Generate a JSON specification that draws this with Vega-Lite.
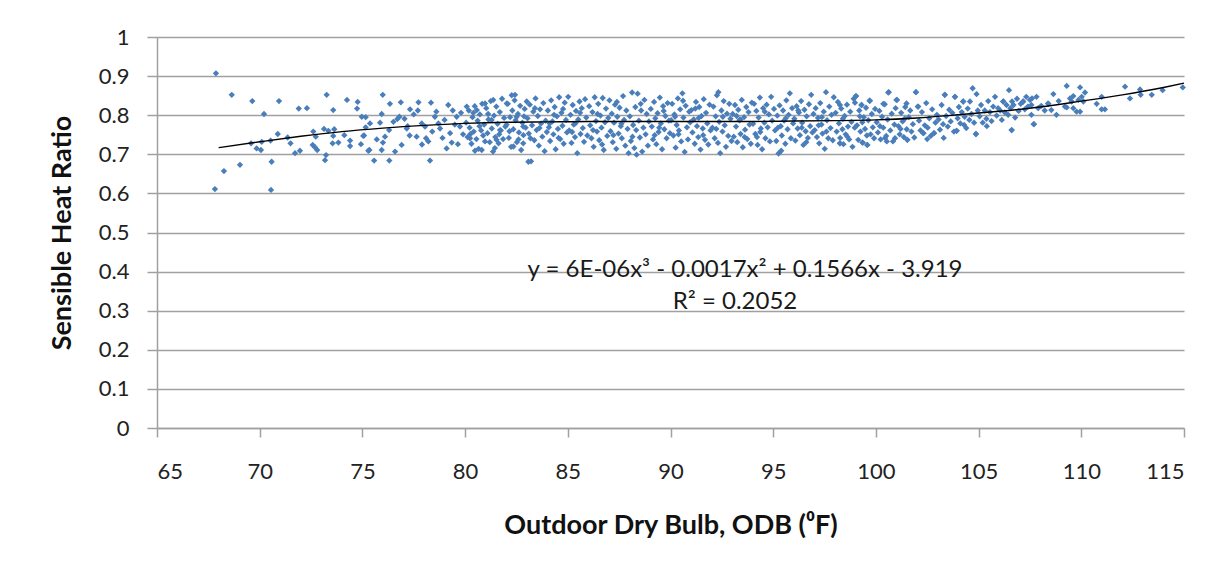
{
  "$schema": "https://vega.github.io/schema/vega-lite/v6.json",
  "width": 1027,
  "height": 391,
  "autosize": {"type": "none"},
  "padding": {"left": 157, "top": 37, "right": 41, "bottom": 144},
  "background": "white",
  "config": {"view": {"stroke": null}, "font": "Lato"},
  "datasets": {
    "pts": [
      {"x":67.87,"y":0.907},{"x":68.64,"y":0.852},{"x":69.64,"y":0.836},{"x":70.94,"y":0.836},{"x":70.21,"y":0.803},{"x":71.9,"y":0.817},{"x":72.3,"y":0.818},{"x":73.26,"y":0.852},{"x":73.58,"y":0.813},{"x":74.25,"y":0.839},{"x":74.77,"y":0.834},{"x":74.74,"y":0.817},{"x":75.16,"y":0.795},{"x":68.26,"y":0.657},{"x":69.04,"y":0.673},{"x":67.82,"y":0.611},{"x":70.55,"y":0.609},{"x":70.58,"y":0.681},{"x":69.58,"y":0.728},{"x":69.85,"y":0.715},{"x":70.1,"y":0.732},{"x":70.06,"y":0.711},{"x":70.53,"y":0.735},{"x":70.88,"y":0.752},{"x":71.36,"y":0.743},{"x":71.5,"y":0.728},{"x":71.72,"y":0.703},{"x":71.96,"y":0.709},{"x":72.58,"y":0.724},{"x":72.69,"y":0.718},{"x":72.8,"y":0.711},{"x":72.61,"y":0.758},{"x":72.73,"y":0.745},{"x":73.13,"y":0.765},{"x":73.34,"y":0.76},{"x":73.23,"y":0.698},{"x":73.18,"y":0.685},{"x":73.63,"y":0.764},{"x":73.58,"y":0.747},{"x":73.55,"y":0.728},{"x":73.83,"y":0.73},{"x":74.12,"y":0.749},{"x":74.4,"y":0.735},{"x":74.4,"y":0.721},{"x":74.93,"y":0.726},{"x":75.04,"y":0.747},{"x":75.16,"y":0.769},{"x":75.29,"y":0.709},
      {"x":75.99,"y":0.852},{"x":76.34,"y":0.829},{"x":76.87,"y":0.833},{"x":77.73,"y":0.833},{"x":78.34,"y":0.832},{"x":79.18,"y":0.826},{"x":77.32,"y":0.815},{"x":74.97,"y":0.796},{"x":75.94,"y":0.803},{"x":76.8,"y":0.796},{"x":75.37,"y":0.779},{"x":75.86,"y":0.781},{"x":76.51,"y":0.783},{"x":77.16,"y":0.766},{"x":75.08,"y":0.748},{"x":75.7,"y":0.738},{"x":76.1,"y":0.745},{"x":75.34,"y":0.711},{"x":75.94,"y":0.711},{"x":75.57,"y":0.684},{"x":76.31,"y":0.684},{"x":76.59,"y":0.707},{"x":76.91,"y":0.724},{"x":77.64,"y":0.745},{"x":77.89,"y":0.779},{"x":78.29,"y":0.684},{"x":78.21,"y":0.733},{"x":78.53,"y":0.796},{"x":78.78,"y":0.766},{"x":79.1,"y":0.715},{"x":79.27,"y":0.754},{"x":79.59,"y":0.796},{"x":79.75,"y":0.771},{"x":80.08,"y":0.822},{"x":80.24,"y":0.741},{"x":80.48,"y":0.709},{"x":80.81,"y":0.711},{"x":80.57,"y":0.813},{"x":80.97,"y":0.83},{"x":81.37,"y":0.839},{"x":81.29,"y":0.788},{"x":81.53,"y":0.737},{"x":81.7,"y":0.762},{"x":82.03,"y":0.83},{"x":82.43,"y":0.852},{"x":82.51,"y":0.796},{"x":82.35,"y":0.72},{"x":82.83,"y":0.728},{"x":83.0,"y":0.835},{"x":83.08,"y":0.681},{"x":82.83,"y":0.771},
      {"x":77.05,"y":0.791},{"x":77.3,"y":0.748},{"x":77.5,"y":0.802},{"x":77.9,"y":0.725},{"x":78.05,"y":0.771},{"x":78.4,"y":0.758},{"x":78.6,"y":0.809},{"x":78.9,"y":0.742},{"x":79.0,"y":0.788},{"x":79.35,"y":0.73},{"x":79.5,"y":0.776},{"x":79.8,"y":0.806},{"x":79.9,"y":0.751},{"x":79.4,"y":0.812},{"x":78.7,"y":0.779},{"x":78.1,"y":0.741},{"x":76.3,"y":0.762},{"x":76.7,"y":0.79},{"x":77.7,"y":0.812},{"x":79.65,"y":0.726},{"x":76.0,"y":0.73},{"x":77.2,"y":0.772},
      {"x":80.05,"y":0.781},{"x":80.12,"y":0.744},{"x":80.18,"y":0.812},{"x":80.22,"y":0.768},{"x":80.31,"y":0.727},{"x":80.36,"y":0.795},{"x":80.42,"y":0.758},{"x":80.47,"y":0.823},{"x":80.55,"y":0.739},{"x":80.61,"y":0.786},{"x":80.66,"y":0.714},{"x":80.72,"y":0.802},{"x":80.78,"y":0.761},{"x":80.83,"y":0.829},{"x":80.88,"y":0.748},{"x":80.93,"y":0.776},{"x":80.97,"y":0.733},{"x":80.4,"y":0.806},{"x":80.7,"y":0.772},{"x":80.26,"y":0.752},
      {"x":81.03,"y":0.818},{"x":81.09,"y":0.754},{"x":81.14,"y":0.789},{"x":81.2,"y":0.731},{"x":81.25,"y":0.836},{"x":81.3,"y":0.766},{"x":81.36,"y":0.707},{"x":81.41,"y":0.799},{"x":81.47,"y":0.744},{"x":81.52,"y":0.822},{"x":81.58,"y":0.778},{"x":81.63,"y":0.728},{"x":81.69,"y":0.808},{"x":81.74,"y":0.761},{"x":81.8,"y":0.842},{"x":81.85,"y":0.739},{"x":81.9,"y":0.793},{"x":81.96,"y":0.771},{"x":81.45,"y":0.716},{"x":81.12,"y":0.803},{"x":81.66,"y":0.751},
      {"x":82.02,"y":0.776},{"x":82.08,"y":0.829},{"x":82.13,"y":0.742},{"x":82.19,"y":0.795},{"x":82.24,"y":0.719},{"x":82.3,"y":0.812},{"x":82.35,"y":0.764},{"x":82.41,"y":0.838},{"x":82.46,"y":0.787},{"x":82.52,"y":0.731},{"x":82.57,"y":0.803},{"x":82.62,"y":0.756},{"x":82.68,"y":0.824},{"x":82.73,"y":0.711},{"x":82.79,"y":0.781},{"x":82.84,"y":0.749},{"x":82.9,"y":0.816},{"x":82.95,"y":0.768},{"x":82.27,"y":0.851},{"x":82.6,"y":0.738},{"x":82.87,"y":0.797},{"x":82.16,"y":0.759},
      {"x":83.04,"y":0.792},{"x":83.1,"y":0.753},{"x":83.15,"y":0.827},{"x":83.21,"y":0.682},{"x":83.26,"y":0.774},{"x":83.32,"y":0.809},{"x":83.37,"y":0.736},{"x":83.43,"y":0.843},{"x":83.48,"y":0.762},{"x":83.54,"y":0.798},{"x":83.59,"y":0.722},{"x":83.65,"y":0.815},{"x":83.7,"y":0.779},{"x":83.76,"y":0.745},{"x":83.81,"y":0.831},{"x":83.87,"y":0.708},{"x":83.92,"y":0.786},{"x":83.98,"y":0.757},{"x":83.4,"y":0.818},{"x":83.62,"y":0.767},{"x":83.18,"y":0.741},
      {"x":84.03,"y":0.812},{"x":84.08,"y":0.769},{"x":84.14,"y":0.734},{"x":84.19,"y":0.838},{"x":84.25,"y":0.784},{"x":84.3,"y":0.751},{"x":84.36,"y":0.821},{"x":84.41,"y":0.713},{"x":84.47,"y":0.797},{"x":84.52,"y":0.765},{"x":84.58,"y":0.846},{"x":84.63,"y":0.739},{"x":84.69,"y":0.806},{"x":84.74,"y":0.773},{"x":84.8,"y":0.727},{"x":84.85,"y":0.832},{"x":84.91,"y":0.788},{"x":84.96,"y":0.756},{"x":84.33,"y":0.801},{"x":84.55,"y":0.742},{"x":84.77,"y":0.816},{"x":84.12,"y":0.779},
      {"x":85.02,"y":0.847},{"x":85.07,"y":0.761},{"x":85.13,"y":0.801},{"x":85.18,"y":0.729},{"x":85.24,"y":0.826},{"x":85.29,"y":0.776},{"x":85.35,"y":0.744},{"x":85.4,"y":0.811},{"x":85.46,"y":0.703},{"x":85.51,"y":0.789},{"x":85.57,"y":0.835},{"x":85.62,"y":0.752},{"x":85.68,"y":0.818},{"x":85.73,"y":0.767},{"x":85.79,"y":0.732},{"x":85.84,"y":0.841},{"x":85.9,"y":0.794},{"x":85.95,"y":0.748},{"x":85.37,"y":0.779},{"x":85.6,"y":0.806},{"x":85.21,"y":0.757},
      {"x":86.04,"y":0.823},{"x":86.09,"y":0.774},{"x":86.15,"y":0.741},{"x":86.2,"y":0.808},{"x":86.26,"y":0.719},{"x":86.31,"y":0.846},{"x":86.37,"y":0.785},{"x":86.42,"y":0.758},{"x":86.48,"y":0.829},{"x":86.53,"y":0.736},{"x":86.59,"y":0.799},{"x":86.64,"y":0.768},{"x":86.7,"y":0.844},{"x":86.75,"y":0.711},{"x":86.81,"y":0.782},{"x":86.86,"y":0.817},{"x":86.92,"y":0.747},{"x":86.97,"y":0.793},{"x":86.45,"y":0.803},{"x":86.67,"y":0.725},{"x":86.23,"y":0.762},
      {"x":87.03,"y":0.838},{"x":87.08,"y":0.759},{"x":87.14,"y":0.804},{"x":87.19,"y":0.731},{"x":87.25,"y":0.781},{"x":87.3,"y":0.827},{"x":87.36,"y":0.714},{"x":87.41,"y":0.796},{"x":87.47,"y":0.753},{"x":87.52,"y":0.819},{"x":87.58,"y":0.772},{"x":87.63,"y":0.741},{"x":87.69,"y":0.849},{"x":87.74,"y":0.788},{"x":87.8,"y":0.722},{"x":87.85,"y":0.812},{"x":87.91,"y":0.765},{"x":87.96,"y":0.703},{"x":87.39,"y":0.834},{"x":87.61,"y":0.778},{"x":87.22,"y":0.749},
      {"x":88.02,"y":0.797},{"x":88.07,"y":0.734},{"x":88.13,"y":0.858},{"x":88.18,"y":0.775},{"x":88.24,"y":0.716},{"x":88.29,"y":0.821},{"x":88.35,"y":0.699},{"x":88.4,"y":0.855},{"x":88.46,"y":0.786},{"x":88.51,"y":0.743},{"x":88.57,"y":0.812},{"x":88.62,"y":0.707},{"x":88.68,"y":0.768},{"x":88.73,"y":0.839},{"x":88.79,"y":0.751},{"x":88.84,"y":0.803},{"x":88.9,"y":0.722},{"x":88.95,"y":0.784},{"x":88.33,"y":0.762},{"x":88.55,"y":0.829},{"x":88.15,"y":0.745},
      {"x":89.04,"y":0.816},{"x":89.09,"y":0.771},{"x":89.15,"y":0.738},{"x":89.2,"y":0.834},{"x":89.26,"y":0.792},{"x":89.31,"y":0.726},{"x":89.37,"y":0.805},{"x":89.42,"y":0.757},{"x":89.48,"y":0.845},{"x":89.53,"y":0.779},{"x":89.59,"y":0.713},{"x":89.64,"y":0.823},{"x":89.7,"y":0.764},{"x":89.75,"y":0.798},{"x":89.81,"y":0.741},{"x":89.86,"y":0.831},{"x":89.92,"y":0.786},{"x":89.97,"y":0.754},{"x":89.45,"y":0.768},{"x":89.67,"y":0.811},{"x":89.23,"y":0.749},
      {"x":90.03,"y":0.787},{"x":90.08,"y":0.829},{"x":90.14,"y":0.748},{"x":90.19,"y":0.802},{"x":90.25,"y":0.717},{"x":90.3,"y":0.775},{"x":90.36,"y":0.843},{"x":90.41,"y":0.761},{"x":90.47,"y":0.815},{"x":90.52,"y":0.733},{"x":90.58,"y":0.856},{"x":90.63,"y":0.794},{"x":90.69,"y":0.706},{"x":90.74,"y":0.824},{"x":90.8,"y":0.769},{"x":90.85,"y":0.738},{"x":90.91,"y":0.809},{"x":90.96,"y":0.782},{"x":90.39,"y":0.751},{"x":90.61,"y":0.837},{"x":90.22,"y":0.796},
      {"x":91.02,"y":0.813},{"x":91.07,"y":0.756},{"x":91.13,"y":0.789},{"x":91.18,"y":0.727},{"x":91.24,"y":0.834},{"x":91.29,"y":0.772},{"x":91.35,"y":0.744},{"x":91.4,"y":0.821},{"x":91.46,"y":0.712},{"x":91.51,"y":0.798},{"x":91.57,"y":0.766},{"x":91.62,"y":0.841},{"x":91.68,"y":0.737},{"x":91.73,"y":0.806},{"x":91.79,"y":0.779},{"x":91.84,"y":0.725},{"x":91.9,"y":0.827},{"x":91.95,"y":0.761},{"x":91.37,"y":0.793},{"x":91.59,"y":0.749},{"x":91.21,"y":0.817},
      {"x":92.04,"y":0.768},{"x":92.09,"y":0.822},{"x":92.15,"y":0.741},{"x":92.2,"y":0.797},{"x":92.26,"y":0.851},{"x":92.31,"y":0.729},{"x":92.37,"y":0.783},{"x":92.42,"y":0.703},{"x":92.48,"y":0.812},{"x":92.53,"y":0.758},{"x":92.59,"y":0.836},{"x":92.64,"y":0.774},{"x":92.7,"y":0.719},{"x":92.75,"y":0.804},{"x":92.81,"y":0.747},{"x":92.86,"y":0.829},{"x":92.92,"y":0.791},{"x":92.97,"y":0.734},{"x":92.33,"y":0.859},{"x":92.55,"y":0.796},{"x":92.23,"y":0.765},
      {"x":93.03,"y":0.803},{"x":93.08,"y":0.745},{"x":93.14,"y":0.826},{"x":93.19,"y":0.771},{"x":93.25,"y":0.731},{"x":93.3,"y":0.814},{"x":93.36,"y":0.787},{"x":93.41,"y":0.752},{"x":93.47,"y":0.839},{"x":93.52,"y":0.718},{"x":93.58,"y":0.795},{"x":93.63,"y":0.763},{"x":93.69,"y":0.821},{"x":93.74,"y":0.739},{"x":93.8,"y":0.808},{"x":93.85,"y":0.776},{"x":93.91,"y":0.727},{"x":93.96,"y":0.832},{"x":93.39,"y":0.789},{"x":93.61,"y":0.744},{"x":93.22,"y":0.798},
      {"x":94.02,"y":0.778},{"x":94.07,"y":0.829},{"x":94.13,"y":0.752},{"x":94.18,"y":0.811},{"x":94.24,"y":0.724},{"x":94.29,"y":0.794},{"x":94.35,"y":0.845},{"x":94.4,"y":0.766},{"x":94.46,"y":0.713},{"x":94.51,"y":0.818},{"x":94.57,"y":0.781},{"x":94.62,"y":0.741},{"x":94.68,"y":0.827},{"x":94.73,"y":0.769},{"x":94.79,"y":0.802},{"x":94.84,"y":0.733},{"x":94.9,"y":0.847},{"x":94.95,"y":0.786},{"x":94.37,"y":0.757},{"x":94.59,"y":0.809},{"x":94.21,"y":0.744},
      {"x":95.04,"y":0.816},{"x":95.09,"y":0.761},{"x":95.15,"y":0.734},{"x":95.2,"y":0.799},{"x":95.26,"y":0.702},{"x":95.31,"y":0.825},{"x":95.37,"y":0.772},{"x":95.42,"y":0.748},{"x":95.48,"y":0.812},{"x":95.53,"y":0.786},{"x":95.59,"y":0.727},{"x":95.64,"y":0.838},{"x":95.7,"y":0.764},{"x":95.75,"y":0.801},{"x":95.81,"y":0.856},{"x":95.86,"y":0.741},{"x":95.92,"y":0.818},{"x":95.97,"y":0.779},{"x":95.39,"y":0.709},{"x":95.61,"y":0.792},{"x":95.23,"y":0.768},
      {"x":96.03,"y":0.791},{"x":96.08,"y":0.735},{"x":96.14,"y":0.823},{"x":96.19,"y":0.766},{"x":96.25,"y":0.807},{"x":96.3,"y":0.749},{"x":96.36,"y":0.836},{"x":96.41,"y":0.781},{"x":96.47,"y":0.724},{"x":96.52,"y":0.814},{"x":96.58,"y":0.759},{"x":96.63,"y":0.797},{"x":96.69,"y":0.742},{"x":96.74,"y":0.828},{"x":96.8,"y":0.772},{"x":96.85,"y":0.852},{"x":96.91,"y":0.756},{"x":96.96,"y":0.803},{"x":96.39,"y":0.768},{"x":96.61,"y":0.731},{"x":96.22,"y":0.812},
      {"x":97.02,"y":0.762},{"x":97.07,"y":0.818},{"x":97.13,"y":0.744},{"x":97.18,"y":0.793},{"x":97.24,"y":0.728},{"x":97.29,"y":0.831},{"x":97.35,"y":0.776},{"x":97.4,"y":0.753},{"x":97.46,"y":0.809},{"x":97.51,"y":0.714},{"x":97.57,"y":0.859},{"x":97.62,"y":0.787},{"x":97.68,"y":0.741},{"x":97.73,"y":0.822},{"x":97.79,"y":0.767},{"x":97.84,"y":0.801},{"x":97.9,"y":0.736},{"x":97.95,"y":0.846},{"x":97.37,"y":0.795},{"x":97.59,"y":0.758},{"x":97.21,"y":0.774},
      {"x":98.04,"y":0.806},{"x":98.09,"y":0.758},{"x":98.15,"y":0.834},{"x":98.2,"y":0.779},{"x":98.26,"y":0.742},{"x":98.31,"y":0.817},{"x":98.37,"y":0.764},{"x":98.42,"y":0.726},{"x":98.48,"y":0.798},{"x":98.53,"y":0.751},{"x":98.59,"y":0.827},{"x":98.64,"y":0.771},{"x":98.7,"y":0.738},{"x":98.75,"y":0.809},{"x":98.81,"y":0.783},{"x":98.86,"y":0.719},{"x":98.92,"y":0.842},{"x":98.97,"y":0.768},{"x":98.39,"y":0.791},{"x":98.61,"y":0.745},{"x":98.25,"y":0.728},
      {"x":99.03,"y":0.849},{"x":99.08,"y":0.774},{"x":99.14,"y":0.737},{"x":99.19,"y":0.812},{"x":99.25,"y":0.758},{"x":99.3,"y":0.826},{"x":99.36,"y":0.73},{"x":99.41,"y":0.795},{"x":99.47,"y":0.765},{"x":99.52,"y":0.819},{"x":99.58,"y":0.724},{"x":99.63,"y":0.787},{"x":99.69,"y":0.837},{"x":99.74,"y":0.751},{"x":99.8,"y":0.803},{"x":99.85,"y":0.769},{"x":99.91,"y":0.741},{"x":99.96,"y":0.816},{"x":99.34,"y":0.782},{"x":99.56,"y":0.748},{"x":99.22,"y":0.797},
      {"x":100.04,"y":0.782},{"x":100.1,"y":0.756},{"x":100.17,"y":0.811},{"x":100.23,"y":0.738},{"x":100.3,"y":0.796},{"x":100.36,"y":0.768},{"x":100.43,"y":0.828},{"x":100.5,"y":0.747},{"x":100.57,"y":0.789},{"x":100.63,"y":0.859},{"x":100.7,"y":0.761},{"x":100.77,"y":0.804},{"x":100.83,"y":0.733},{"x":100.9,"y":0.776},{"x":100.96,"y":0.818},{"x":100.45,"y":0.742},{"x":100.2,"y":0.772},
      {"x":101.03,"y":0.839},{"x":101.1,"y":0.772},{"x":101.16,"y":0.751},{"x":101.23,"y":0.806},{"x":101.3,"y":0.784},{"x":101.36,"y":0.744},{"x":101.43,"y":0.821},{"x":101.5,"y":0.764},{"x":101.53,"y":0.737},{"x":101.6,"y":0.795},{"x":101.67,"y":0.812},{"x":101.73,"y":0.758},{"x":101.8,"y":0.777},{"x":101.87,"y":0.743},{"x":101.95,"y":0.859},{"x":101.4,"y":0.791},{"x":101.2,"y":0.765},
      {"x":102.04,"y":0.822},{"x":102.1,"y":0.786},{"x":102.17,"y":0.761},{"x":102.24,"y":0.808},{"x":102.31,"y":0.754},{"x":102.38,"y":0.774},{"x":102.45,"y":0.831},{"x":102.52,"y":0.768},{"x":102.6,"y":0.792},{"x":102.67,"y":0.747},{"x":102.74,"y":0.815},{"x":102.83,"y":0.754},{"x":102.9,"y":0.781},{"x":102.97,"y":0.801},{"x":102.5,"y":0.739},
      {"x":103.05,"y":0.789},{"x":103.12,"y":0.763},{"x":103.2,"y":0.826},{"x":103.27,"y":0.777},{"x":103.35,"y":0.852},{"x":103.42,"y":0.798},{"x":103.5,"y":0.771},{"x":103.57,"y":0.814},{"x":103.64,"y":0.784},{"x":103.72,"y":0.806},{"x":103.8,"y":0.758},{"x":103.85,"y":0.847},{"x":103.93,"y":0.76},{"x":103.98,"y":0.792},{"x":103.3,"y":0.742},
      {"x":104.04,"y":0.821},{"x":104.11,"y":0.779},{"x":104.18,"y":0.808},{"x":104.25,"y":0.835},{"x":104.32,"y":0.796},{"x":104.4,"y":0.767},{"x":104.47,"y":0.817},{"x":104.55,"y":0.788},{"x":104.58,"y":0.835},{"x":104.65,"y":0.803},{"x":104.71,"y":0.869},{"x":104.78,"y":0.781},{"x":104.87,"y":0.752},{"x":104.9,"y":0.854},{"x":104.96,"y":0.812},{"x":104.3,"y":0.775},
      {"x":105.05,"y":0.797},{"x":105.12,"y":0.826},{"x":105.2,"y":0.781},{"x":105.3,"y":0.812},{"x":105.38,"y":0.791},{"x":105.47,"y":0.836},{"x":105.55,"y":0.808},{"x":105.63,"y":0.785},{"x":105.71,"y":0.822},{"x":105.8,"y":0.847},{"x":105.88,"y":0.799},{"x":105.95,"y":0.818},{"x":105.4,"y":0.772},
      {"x":106.05,"y":0.812},{"x":106.13,"y":0.788},{"x":106.2,"y":0.835},{"x":106.28,"y":0.807},{"x":106.36,"y":0.826},{"x":106.44,"y":0.801},{"x":106.48,"y":0.864},{"x":106.55,"y":0.818},{"x":106.61,"y":0.762},{"x":106.63,"y":0.835},{"x":106.7,"y":0.826},{"x":106.78,"y":0.794},{"x":106.87,"y":0.842},{"x":106.95,"y":0.811},
      {"x":107.05,"y":0.829},{"x":107.17,"y":0.835},{"x":107.25,"y":0.815},{"x":107.32,"y":0.847},{"x":107.4,"y":0.822},{"x":107.5,"y":0.839},{"x":107.57,"y":0.826},{"x":107.6,"y":0.843},{"x":107.7,"y":0.777},{"x":107.82,"y":0.847},{"x":107.9,"y":0.818},{"x":107.57,"y":0.801},{"x":107.68,"y":0.777},
      {"x":108.05,"y":0.824},{"x":108.22,"y":0.812},{"x":108.38,"y":0.83},{"x":108.54,"y":0.813},{"x":108.64,"y":0.854},{"x":108.79,"y":0.801},{"x":108.9,"y":0.836},{"x":108.4,"y":0.829},
      {"x":112.13,"y":0.873},{"x":112.37,"y":0.843},{"x":112.86,"y":0.866},{"x":112.89,"y":0.852},{"x":113.43,"y":0.852},{"x":113.96,"y":0.864},{"x":114.94,"y":0.871},{"x":110.99,"y":0.847},{"x":110.99,"y":0.815},{"x":111.15,"y":0.815},{"x":110.75,"y":0.829},{"x":109.29,"y":0.875},{"x":109.94,"y":0.871},{"x":110.18,"y":0.858},{"x":110.02,"y":0.847},{"x":109.86,"y":0.839},{"x":110.1,"y":0.835},{"x":109.45,"y":0.843},{"x":109.61,"y":0.849},{"x":109.53,"y":0.835},{"x":109.29,"y":0.82},{"x":109.61,"y":0.818},{"x":109.77,"y":0.809},{"x":109.94,"y":0.809},{"x":109.2,"y":0.822},
      {"x":99.03,"y":0.849},{"x":98.98,"y":0.832},{"x":100.6,"y":0.858},{"x":101.95,"y":0.859},{"x":101.0,"y":0.839},{"x":99.71,"y":0.837},{"x":99.3,"y":0.826},{"x":98.25,"y":0.826},{"x":100.36,"y":0.829},{"x":101.49,"y":0.83},{"x":102.06,"y":0.822},{"x":103.36,"y":0.852},{"x":103.85,"y":0.847},{"x":104.25,"y":0.835},{"x":106.2,"y":0.835},{"x":107.17,"y":0.835},{"x":106.61,"y":0.762},{"x":104.87,"y":0.752},{"x":103.93,"y":0.76},{"x":102.83,"y":0.754},{"x":102.31,"y":0.754},{"x":101.53,"y":0.737},{"x":100.93,"y":0.741},{"x":100.53,"y":0.733},{"x":99.58,"y":0.724},{"x":99.34,"y":0.73},{"x":98.25,"y":0.728}
    ],
    "trend": [
      {"x":68,"y":0.717},{"x":70,"y":0.732},{"x":72,"y":0.746},{"x":74,"y":0.758},{"x":76,"y":0.767},{"x":78,"y":0.774},{"x":80,"y":0.779},{"x":82,"y":0.782},{"x":84,"y":0.783},{"x":86,"y":0.784},{"x":88,"y":0.784},{"x":90,"y":0.784},{"x":92,"y":0.784},{"x":94,"y":0.784},{"x":96,"y":0.785},{"x":98,"y":0.786},{"x":100,"y":0.788},{"x":102,"y":0.793},{"x":104,"y":0.801},{"x":106,"y":0.81},{"x":108,"y":0.821},{"x":110,"y":0.836},{"x":112,"y":0.852},{"x":114,"y":0.871},{"x":115,"y":0.882}
    ],
    "eq": [
      {"label":"y = 6E-06x³ - 0.0017x² + 0.1566x - 3.919","x":93.63,"y":0.404},
      {"label":"R² = 0.2052","x":93.14,"y":0.321}
    ]
  },
  "layer": [
    {
      "data": {"name": "pts"},
      "mark": {"type": "point", "shape": "diamond", "filled": true, "size": 40, "color": "#4A7EBB", "opacity": 1},
      "encoding": {
        "x": {"field": "x", "type": "quantitative",
          "scale": {"domain": [65, 115], "nice": false, "zero": false},
          "axis": {"values": [65,70,75,80,85,90,95,100,105,110,115], "tickCount": 11, "grid": false, "labelOverlap": false,
            "domainColor": "#A0A0A0", "domainWidth": 1.5, "tickColor": "#A0A0A0", "tickWidth": 1.5, "tickSize": 9,
            "labelFont": "Lato", "labelFontSize": 22, "labelColor": "#222222", "labelPadding": 24,
            "title": "Outdoor Dry Bulb, ODB (⁰F)", "titleFont": "Lato", "titleFontSize": 27, "titleFontWeight": "bold", "titleColor": "#111111",
            "titleBaseline": "alphabetic", "titleY": 105}},
        "y": {"field": "y", "type": "quantitative",
          "scale": {"domain": [0, 1], "nice": false},
          "axis": {"values": [0,0.1,0.2,0.3,0.4,0.5,0.6,0.7,0.8,0.9,1], "tickCount": 11, "format": ".1~f", "grid": true, "labelOverlap": false,
            "gridColor": "#A0A0A0", "gridWidth": 1.5,
            "domainColor": "#A0A0A0", "domainWidth": 1.5, "tickColor": "#A0A0A0", "tickWidth": 1.5, "tickSize": 10,
            "labelFont": "Lato", "labelFontSize": 22, "labelColor": "#222222", "labelPadding": 18,
            "title": "Sensible Heat Ratio", "titleFont": "Lato", "titleFontSize": 27, "titleFontWeight": "bold", "titleColor": "#111111",
            "titleAngle": -90, "titleBaseline": "middle", "titleX": -95, "titleY": 195.5}}
      }
    },
    {
      "data": {"name": "trend"},
      "mark": {"type": "line", "color": "#000000", "strokeWidth": 1.4, "interpolate": "monotone"},
      "encoding": {
        "x": {"field": "x", "type": "quantitative"},
        "y": {"field": "y", "type": "quantitative"}
      }
    },
    {
      "data": {"name": "eq"},
      "mark": {"type": "text", "font": "Lato", "fontSize": 24, "color": "#1a1a1a", "align": "center", "baseline": "middle"},
      "encoding": {
        "x": {"field": "x", "type": "quantitative"},
        "y": {"field": "y", "type": "quantitative"},
        "text": {"field": "label"}
      }
    }
  ]
}
